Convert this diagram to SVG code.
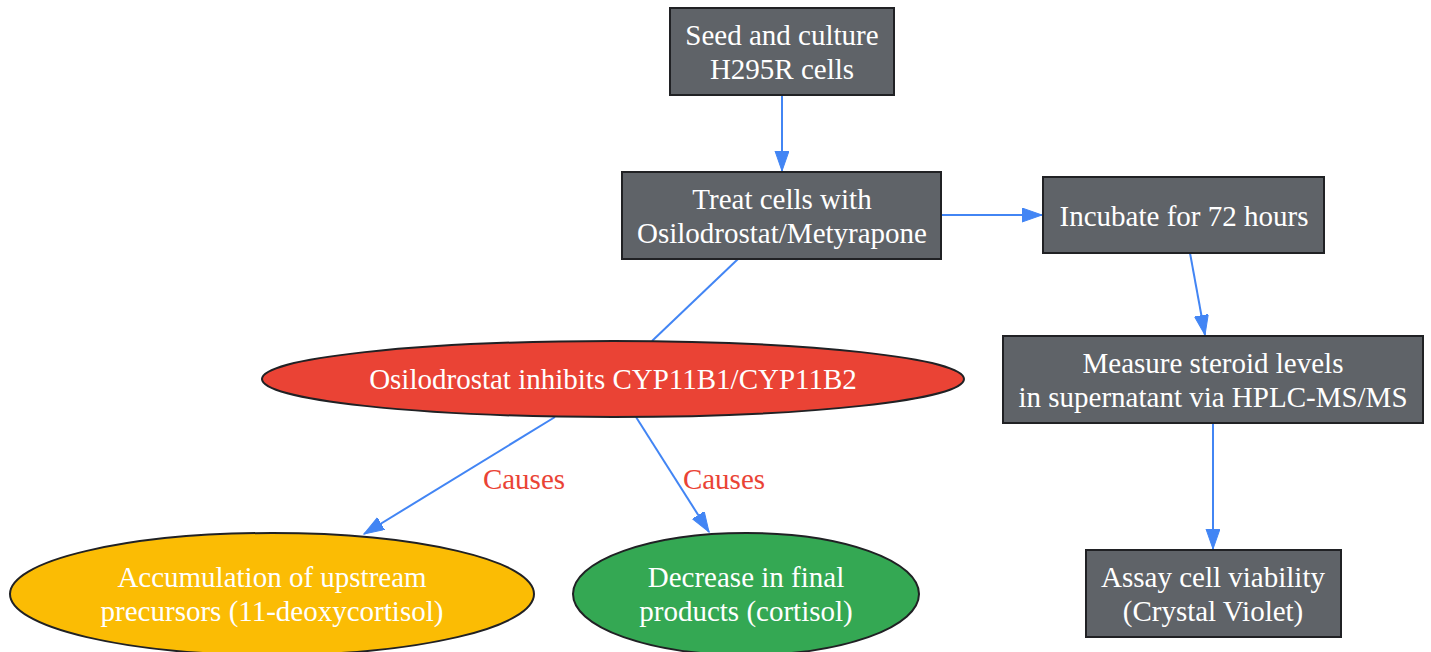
<svg xmlns="http://www.w3.org/2000/svg" width="1431" height="652" viewBox="0 0 1431 652">
<style>
.box{fill:#5f6368;stroke:#202124;stroke-width:2}
.t{font-family:"Liberation Serif","Times New Roman",serif;font-size:29px;fill:#ffffff;text-anchor:middle}
.lbl{font-family:"Liberation Serif","Times New Roman",serif;font-size:29px;fill:#ea4335;text-anchor:middle}
.e{fill:none;stroke:#4285f4;stroke-width:2}
.nd{stroke:#202124;stroke-width:2}
</style>
<defs>
<marker id="ah" markerUnits="userSpaceOnUse" markerWidth="22" markerHeight="16" refX="20" refY="7" orient="auto">
<path d="M0,0 L20,7 L0,14 z" fill="#4285f4" stroke="#4285f4" stroke-width="1"/>
</marker>
</defs>
<rect width="1431" height="652" fill="#ffffff"/>
<g id="edges">
<line class="e" x1="782" y1="95" x2="782" y2="171" marker-end="url(#ah)"/>
<line class="e" x1="941" y1="215" x2="1042" y2="215" marker-end="url(#ah)"/>
<line class="e" x1="738" y1="259" x2="652" y2="341"/>
<line class="e" x1="555" y1="417" x2="364" y2="534" marker-end="url(#ah)"/>
<line class="e" x1="636" y1="417" x2="709" y2="532" marker-end="url(#ah)"/>
<line class="e" x1="1190" y1="253" x2="1205" y2="335" marker-end="url(#ah)"/>
<line class="e" x1="1213" y1="423" x2="1213" y2="549" marker-end="url(#ah)"/>
<text class="lbl" x="524" y="489">Causes</text>
<text class="lbl" x="724" y="489">Causes</text>
</g>
<g id="seed">
<rect class="box" x="670" y="8" width="224" height="87"/>
<text class="t" x="782" y="45">Seed and culture</text>
<text class="t" x="782" y="79">H295R cells</text>
</g>
<g id="treat">
<rect class="box" x="622" y="172" width="319" height="87"/>
<text class="t" x="782" y="209">Treat cells with</text>
<text class="t" x="782" y="243">Osilodrostat/Metyrapone</text>
</g>
<g id="incubate">
<rect class="box" x="1043" y="177" width="281" height="76"/>
<text class="t" x="1184" y="226">Incubate for 72 hours</text>
</g>
<g id="measure">
<rect class="box" x="1003" y="336" width="420" height="87"/>
<text class="t" x="1213" y="373">Measure steroid levels</text>
<text class="t" x="1213" y="407">in supernatant via HPLC-MS/MS</text>
</g>
<g id="assay">
<rect class="box" x="1086" y="550" width="255" height="87"/>
<text class="t" x="1213" y="587">Assay cell viability</text>
<text class="t" x="1213" y="621">(Crystal Violet)</text>
</g>
<g id="inhibit">
<ellipse class="nd" cx="613" cy="379" rx="351" ry="38" fill="#ea4335"/>
<text class="t" x="613" y="389">Osilodrostat inhibits CYP11B1/CYP11B2</text>
</g>
<g id="accum">
<ellipse class="nd" cx="272" cy="594" rx="262" ry="61" fill="#fbbc04"/>
<text class="t" x="272" y="587">Accumulation of upstream</text>
<text class="t" x="272" y="621">precursors (11-deoxycortisol)</text>
</g>
<g id="decrease">
<ellipse class="nd" cx="746" cy="594" rx="173" ry="61" fill="#34a853"/>
<text class="t" x="746" y="587">Decrease in final</text>
<text class="t" x="746" y="621">products (cortisol)</text>
</g>
</svg>
